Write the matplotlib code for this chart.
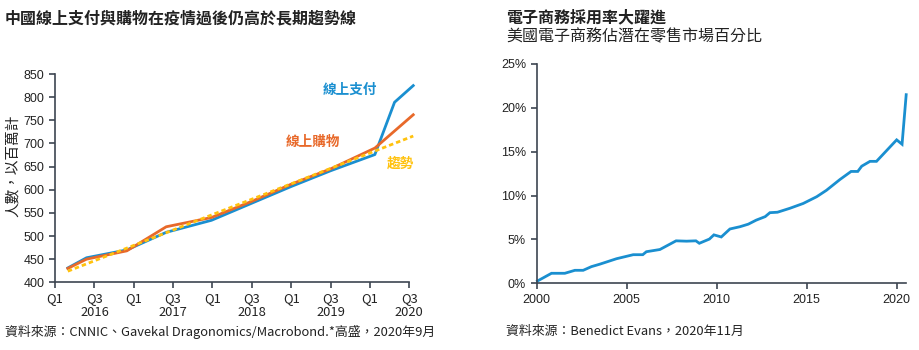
import matplotlib
matplotlib.use("Agg")
import matplotlib.pyplot as plt

plt.rcParams['font.family'] = ['Noto Sans CJK TC', 'DejaVu Sans']

# China: online payment / shopping users (millions), x in quarters from 2016 Q1
pay_x = [0.65, 1.6, 3.65, 5.65, 7.95, 10.0, 12.0, 14.0, 16.25, 17.25, 18.2]
pay = [431, 453, 470, 508, 534, 571, 607, 641, 676, 789, 825]
shop_x = [0.65, 1.6, 3.65, 5.65, 7.95, 10.0, 12.0, 14.0, 16.25, 18.2]
shop = [430, 450, 468, 520, 540, 575, 612, 645, 690, 762]
trend_x = [0.65, 18.2]
trend = [424, 716]
q_ticks = [0, 2, 4, 6, 8, 10, 12, 14, 16, 18]
q_labels = ['Q1', 'Q3\n2016', 'Q1', 'Q3\n2017', 'Q1', 'Q3\n2018',
            'Q1', 'Q3\n2019', 'Q1', 'Q3\n2020']

# US: e-commerce share of retail (%)
us_year = [2000.05, 2000.83, 2001.57, 2002.13, 2002.59, 2003.05, 2003.5,
           2004.44, 2005.37, 2005.9, 2006.1, 2006.85, 2007.75, 2008.33,
           2008.85, 2009.04, 2009.6, 2009.85, 2010.26, 2010.74, 2011.3,
           2011.76, 2012.2, 2012.7, 2012.96, 2013.38, 2014.07, 2014.81,
           2015.56, 2016.1, 2016.85, 2017.47, 2017.84, 2018.06, 2018.52,
           2018.88, 2020.0, 2020.3, 2020.53]
us_share = [0.26, 1.14, 1.14, 1.48, 1.48, 1.9, 2.17, 2.8, 3.26, 3.26, 3.6,
            3.85, 4.84, 4.8, 4.84, 4.56, 5.04, 5.52, 5.28, 6.19, 6.45, 6.74,
            7.2, 7.6, 8.05, 8.1, 8.55, 9.1, 9.87, 10.6, 11.83, 12.75, 12.75,
            13.35, 13.9, 13.9, 16.35, 15.85, 21.5]

BLUE = '#1a8fd0'
ORANGE = '#e8692a'
YELLOW = '#ffc20e'
SPINE = '#3d4551'
TEXT = '#222222'

fig = plt.figure(figsize=(9.2, 3.5), dpi=100)


def style_axes(ax):
    for s in ['top', 'right']:
        ax.spines[s].set_visible(False)
    for s in ['left', 'bottom']:
        ax.spines[s].set_color(SPINE)
        ax.spines[s].set_linewidth(1.2)
    ax.tick_params(color=SPINE, length=4, width=1.2, labelcolor=TEXT)


# left chart
ax1 = fig.add_axes([0.0598, 0.1934, 0.3851, 0.5951])
style_axes(ax1)
ax1.plot(pay_x, pay, color=BLUE, lw=2, clip_on=False, zorder=3)
ax1.plot(shop_x, shop, color=ORANGE, lw=2, clip_on=False, zorder=4)
ax1.plot(trend_x, trend, color=YELLOW, lw=2, dashes=(1.6, 1.1),
         clip_on=False, zorder=5)
ax1.set_xlim(0, 18)
ax1.set_ylim(400, 850)
ax1.set_yticks(range(400, 851, 50))
ax1.set_xticks(q_ticks)
ax1.set_xticklabels(q_labels, fontsize=9.3, linespacing=1.05)
ax1.tick_params(axis='x', pad=3)
for lab in ax1.get_yticklabels():
    lab.set_family(['Liberation Sans', 'DejaVu Sans'])
    lab.set_fontsize(9)
ax1.set_ylabel('人數，以百萬計', fontsize=10.5, color=TEXT)
ax1.yaxis.set_label_coords(-0.098, 0.56)

ax1.text(14.97, 815, '線上支付', color=BLUE, fontsize=9.8,
         fontweight='bold', ha='center', va='center')
ax1.text(13.1, 704, '線上購物', color=ORANGE, fontsize=9.8,
         fontweight='bold', ha='center', va='center')
ax1.text(17.53, 657, '趨勢', color=YELLOW, fontsize=9.8,
         fontweight='bold', ha='center', va='center')

fig.text(5 / 920, 1 - 18 / 350, '中國線上支付與購物在疫情過後仍高於長期趨勢線',
         fontsize=11.5, fontweight='bold', color=TEXT, va='center')
fig.text(5 / 920, 1 - 331.5 / 350,
         '資料來源：CNNIC、Gavekal Dragonomics/Macrobond.*高盛，2020年9月',
         fontsize=9.3, color=TEXT, va='center')

# right chart
ax2 = fig.add_axes([0.5832, 0.1906, 0.4016, 0.6266])
style_axes(ax2)
ax2.plot(us_year, us_share, color=BLUE, lw=2, clip_on=False,
         solid_joinstyle='miter')
ax2.set_xlim(2000, 2020.52)
ax2.set_ylim(0, 25)
ax2.set_xticks([2000, 2005, 2010, 2015, 2020])
ax2.set_yticks([0, 5, 10, 15, 20, 25])
ax2.set_yticklabels([f'{v}%' for v in [0, 5, 10, 15, 20, 25]])
for lab in ax2.get_xticklabels() + ax2.get_yticklabels():
    lab.set_family(['Liberation Sans Narrow', 'Liberation Sans', 'DejaVu Sans'])
    lab.set_fontsize(9)

fig.text(506.5 / 920, 1 - 17 / 350, '電子商務採用率大躍進',
         fontsize=11.5, fontweight='bold', color=TEXT, va='center')
fig.text(506.5 / 920, 1 - 37 / 350, '美國電子商務佔潛在零售市場百分比',
         fontsize=11.5, color=TEXT, va='center')
fig.text(506.5 / 920, 1 - 331.5 / 350, '資料來源：Benedict Evans，2020年11月',
         fontsize=9.3, color=TEXT, va='center')

fig.savefig('out.png', dpi=100)
